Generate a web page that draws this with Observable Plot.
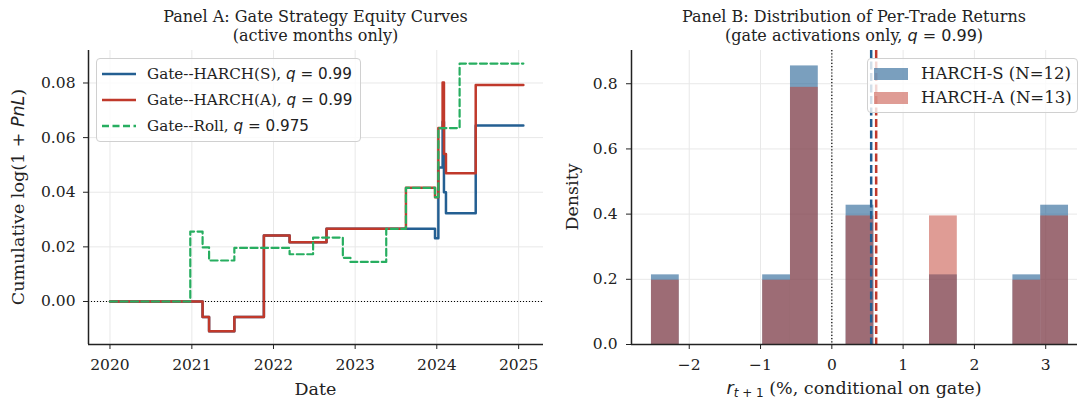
<!DOCTYPE html>
<html><head><meta charset="utf-8">
<script src="https://cdn.jsdelivr.net/npm/d3@7"></script>
<script src="https://cdn.jsdelivr.net/npm/@observablehq/plot@0.6"></script>
<style>
body{margin:0;background:#fff;}
#wrap{position:relative;width:1080px;height:403px;font-family:"DejaVu Serif",serif;color:#222;overflow:hidden;}
.abs{position:absolute;white-space:nowrap;}
.m{font-family:"DejaVu Sans",sans-serif;}
.mi{font-family:"DejaVu Sans",sans-serif;font-style:italic;}
.title{font-size:16px;line-height:19px;text-align:center;width:500px;}
.lab{font-size:17.5px;}
.leg{background:rgba(255,255,255,0.8);border:1px solid #d0d0d0;border-radius:4px;}
.row{position:absolute;line-height:18px;}
svg{display:block;}
</style></head>
<body><div id="wrap"></div>
<script>
// ---------- Panel A data: cumulative log(1+PnL) step curves ----------
const datesS = ["2020-01-01","2021-02-18","2021-03-19","2021-07-10","2021-11-19","2022-03-14","2022-08-26","2023-12-24","2024-01-08","2024-01-27","2024-02-02","2024-02-11","2024-06-23","2025-01-22"];
const valsS  = [0,-0.0057,-0.0109,-0.0057,0.0242,0.0217,0.0266,0.0232,0.0491,0.0658,0.0400,0.0323,0.0644,0.0644];
const datesA = ["2020-01-01","2021-02-18","2021-03-19","2021-07-10","2021-11-19","2022-03-14","2022-08-26","2023-08-16","2023-12-24","2024-01-08","2024-01-27","2024-02-02","2024-02-11","2024-06-23","2025-01-22"];
const valsA  = [0,-0.0057,-0.0109,-0.0057,0.0242,0.0217,0.0266,0.0416,0.0382,0.0635,0.0802,0.0540,0.0470,0.0793,0.0793];
const datesR = ["2020-01-01","2020-12-25","2021-02-18","2021-03-19","2021-07-10","2022-03-14","2022-06-27","2022-11-07","2022-12-11","2023-05-20","2023-08-16","2023-12-24","2024-01-08","2024-04-12","2025-01-22"];
const valsR  = [0,0.0256,0.0198,0.0150,0.0196,0.0173,0.0234,0.0160,0.0145,0.0266,0.0416,0.0382,0.0635,0.0871,0.0871];
const seriesNames = ["Gate--HARCH(S)","Gate--HARCH(A)","Gate--Roll"];
const seriesQ = ["0.99","0.99","0.975"];
const yearTickLabels = ["2020","2021","2022","2023","2024","2025"];
const yTicksA = [0,0.02,0.04,0.06,0.08];

// ---------- Panel B data: histogram of per-trade returns ----------
const binEdges = [-2.53,-2.14,-1.75,-1.36,-0.97,-0.58,-0.19,0.20,0.59,0.98,1.37,1.76,2.15,2.54,2.93,3.32];
const countsS = [1,0,0,0,1,4,0,2,0,0,1,0,0,1,2];
const countsA = [1,0,0,0,1,4,0,2,0,0,2,0,0,1,2];
const histNames = ["HARCH-S","HARCH-A"];
const meanS = 0.552, meanA = 0.622;
const xTicksB = [-2,-1,0,1,2,3];
const yTicksB = [0,0.2,0.4,0.6,0.8];

const cBlue = "#245f92", cRed = "#c0392b", cGreen = "#27ae60";
const gridC = "#e8e8e8", ink = "#222";
const parse = d3.utcParse("%Y-%m-%d");
const toRows = (ds, vs, name) => ds.map((d,i)=>({name, date: parse(d), v: vs[i]}));
const rowsS = toRows(datesS, valsS, seriesNames[0]);
const rowsA = toRows(datesA, valsA, seriesNames[1]);
const rowsR = toRows(datesR, valsR, seriesNames[2]);
const yearTicks = yearTickLabels.map(y => parse(y + "-01-01"));
const xDomA = [parse("2019-09-27"), parse("2025-04-22")];
const yDomA = [-0.01575, 0.0919];

const wrap = document.getElementById("wrap");
const baseStyle = {fontFamily:"DejaVu Serif, serif", fontSize:"15.5px", color:ink, background:"transparent", overflow:"visible"};

const plotA = Plot.plot({
  width: 550, height: 403,
  marginLeft: 88, marginRight: 7, marginTop: 50, marginBottom: 59,
  style: baseStyle,
  x: {type:"utc", domain: xDomA, ticks: yearTicks, tickFormat: d3.utcFormat("%Y"), tickSize: 5, tickPadding: 9, label: null},
  y: {domain: yDomA, ticks: yTicksA, tickFormat: d3.format(".2f"), tickSize: 5, tickPadding: 8, label: null},
  marks: [
    Plot.ruleX(yearTicks, {stroke: gridC, strokeWidth: 1}),
    Plot.ruleY(yTicksA, {stroke: gridC, strokeWidth: 1}),
    Plot.ruleY([0], {stroke: "#000", strokeWidth: 1, strokeDasharray: "1,2"}),
    Plot.line(rowsS, {x:"date", y:"v", curve:"step-after", stroke: cBlue, strokeWidth: 2.5}),
    Plot.line(rowsA, {x:"date", y:"v", curve:"step-after", stroke: cRed, strokeWidth: 2.5}),
    Plot.line(rowsR, {x:"date", y:"v", curve:"step-after", stroke: cGreen, strokeWidth: 2.2, strokeDasharray: "7,3.5"}),
    Plot.ruleX([xDomA[0]], {stroke: ink, strokeWidth: 1.5}),
    Plot.ruleY([yDomA[0]], {stroke: ink, strokeWidth: 1.5})
  ]
});

const binW = binEdges[1] - binEdges[0];
const nS = d3.sum(countsS), nA = d3.sum(countsA);
const hist = [];
countsS.forEach((c,i)=>{ if (c>0) hist.push({name: histNames[0], x1: binEdges[i], x2: binEdges[i+1], d: c/(nS*binW)}); });
countsA.forEach((c,i)=>{ if (c>0) hist.push({name: histNames[1], x1: binEdges[i], x2: binEdges[i+1], d: c/(nA*binW)}); });
const xDomB = [-2.81, 3.446], yDomB = [0, 0.902];

const plotB = Plot.plot({
  width: 530, height: 403,
  marginLeft: 81, marginRight: 3, marginTop: 50, marginBottom: 59,
  style: baseStyle,
  x: {domain: xDomB, ticks: xTicksB, tickFormat: d3.format("d"), tickSize: 5, tickPadding: 9, label: null},
  y: {domain: yDomB, ticks: yTicksB, tickFormat: d3.format(".1f"), tickSize: 5, tickPadding: 9, label: null},
  marks: [
    Plot.ruleX(xTicksB, {stroke: gridC, strokeWidth: 1}),
    Plot.ruleY(yTicksB, {stroke: gridC, strokeWidth: 1}),
    Plot.rect(hist.filter(d=>d.name===histNames[0]), {x1:"x1", x2:"x2", y1: 0, y2:"d", fill: "#225f93", fillOpacity: 0.6}),
    Plot.rect(hist.filter(d=>d.name===histNames[1]), {x1:"x1", x2:"x2", y1: 0, y2:"d", fill: cRed, fillOpacity: 0.5}),
    Plot.ruleX([0], {stroke: "#000", strokeWidth: 1.2, strokeDasharray: "1.2,2"}),
    Plot.ruleX([meanS], {stroke: cBlue, strokeWidth: 2.5, strokeDasharray: "8,3.5"}),
    Plot.ruleX([meanA], {stroke: cRed, strokeWidth: 2.5, strokeDasharray: "8,3.5"}),
    Plot.ruleX([xDomB[0]], {stroke: ink, strokeWidth: 1.5}),
    Plot.ruleY([yDomB[0]], {stroke: ink, strokeWidth: 1.5})
  ]
});

function place(el, left, top){ el.style.position="absolute"; el.style.left=left+"px"; el.style.top=top+"px"; wrap.appendChild(el); return el; }
place(plotA, 0, 0);
place(plotB, 550, 0);

function div(html, cls, css){ const d=document.createElement("div"); d.className="abs "+(cls||""); d.innerHTML=html; Object.assign(d.style, css); wrap.appendChild(d); return d; }
const q = v => `<span class="mi">q</span><span class="m"> = ${v}</span>`;

// titles
div(`Panel A: Gate Strategy Equity Curves<br>(active months only)`, "title", {left:(315.5-250)+"px", top:"7px"});
div(`Panel B: Distribution of Per-Trade Returns<br>(gate activations only, ${q("0.99")})`, "title", {left:(854-250)+"px", top:"7px"});

// axis labels
div(`Date`, "lab", {left:"315.5px", top:"389px", transform:"translate(-50%,-50%)"});
div(`<span class="mi">r</span><sub style="font-size:12px;vertical-align:-3px"><span class="mi">t</span><span class="m"> + 1</span></sub> (%, conditional on gate)`, "lab", {left:"854px", top:"389px", transform:"translate(-50%,-50%)"});
div(`Cumulative log(1 + <span class="mi">PnL</span>)`, "lab", {left:"18px", top:"197px", transform:"translate(-50%,-50%) rotate(-90deg)"});
div(`Density`, "lab", {left:"572px", top:"197px", transform:"translate(-50%,-50%) rotate(-90deg)"});

// legend A
const legA = div("", "leg", {left:"96px", top:"58px", width:"263px", height:"82px"});
const styA = [
  {c:cBlue, dash:""},
  {c:cRed, dash:""},
  {c:cGreen, dash:"7,3.5"}
];
seriesNames.forEach((n,i)=>{
  const r = document.createElement("div");
  r.className="row";
  r.style.fontSize="15.2px";
  r.style.left="4px"; r.style.top=(5+26*i)+"px";
  r.innerHTML = `<svg width="36" height="18" style="display:inline-block;vertical-align:middle"><line x1="1" x2="35" y1="9" y2="9" stroke="${styA[i].c}" stroke-width="2.5" ${styA[i].dash?`stroke-dasharray="${styA[i].dash}"`:""}/></svg><span style="margin-left:10px;vertical-align:middle">${n}, ${q(seriesQ[i])}</span>`;
  legA.appendChild(r);
});

// legend B
const legB = div("", "leg", {left:"867px", top:"58px", width:"209px", height:"53px"});
const fillsB = [["#225f93",0.6],[cRed,0.5]];
[nS, nA].forEach((n,i)=>{
  const r = document.createElement("div");
  r.className="row";
  r.style.fontSize="16.5px";
  r.style.left="5px"; r.style.top=(5+24*i)+"px";
  r.innerHTML = `<svg width="36" height="18" style="display:inline-block;vertical-align:middle"><rect x="1" y="3" width="34" height="12" fill="${fillsB[i][0]}" fill-opacity="${fillsB[i][1]}"/></svg><span style="margin-left:12px;vertical-align:middle">${histNames[i]} (N=${n})</span>`;
  legB.appendChild(r);
});
</script></body></html>
